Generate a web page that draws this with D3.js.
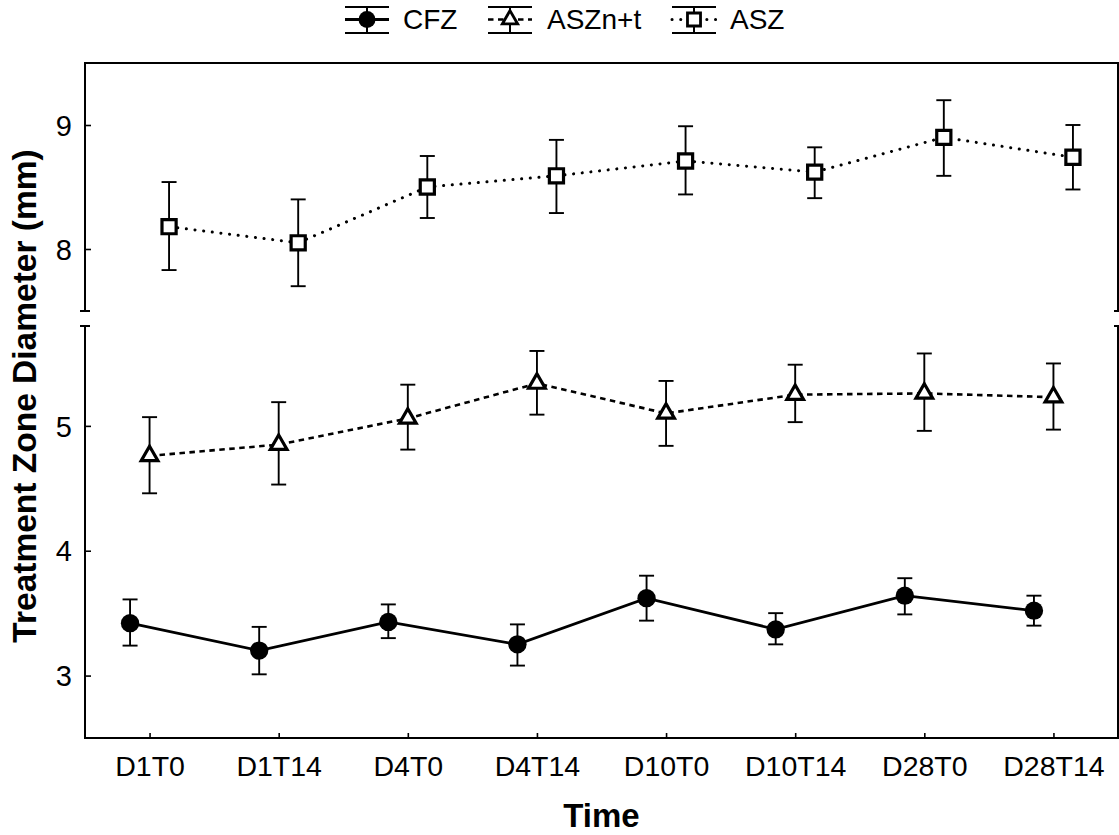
<!DOCTYPE html>
<html>
<head>
<meta charset="utf-8">
<script src="https://cdn.jsdelivr.net/npm/d3@7/dist/d3.min.js"></script>
<style>
  html, body { margin: 0; padding: 0; background: #fff; }
  svg { display: block; font-family: "Liberation Sans", Arial, Helvetica, sans-serif; }
</style>
</head>
<body>
<svg id="chart" width="1119" height="835"></svg>
<script>
// ---- data ----
const categories = ["D1T0","D1T14","D4T0","D4T14","D10T0","D10T14","D28T0","D28T14"];
const seriesNames = ["CFZ","ASZn+t","ASZ"];

const cfzMean  = [3.42,3.20,3.43,3.25,3.62,3.37,3.64,3.52];
const cfzUpper = [3.61,3.39,3.57,3.41,3.80,3.50,3.78,3.64];
const cfzLower = [3.24,3.01,3.30,3.08,3.44,3.25,3.49,3.40];

const asznMean  = [4.76,4.85,5.06,5.34,5.10,5.25,5.26,5.23];
const asznUpper = [5.07,5.19,5.33,5.60,5.36,5.49,5.58,5.50];
const asznLower = [4.46,4.53,4.81,5.09,4.84,5.03,4.96,4.97];

const aszMean  = [8.18,8.05,8.50,8.59,8.71,8.62,8.90,8.74];
const aszUpper = [8.54,8.40,8.75,8.88,8.99,8.82,9.20,9.00];
const aszLower = [7.83,7.70,8.25,8.29,8.44,8.41,8.59,8.48];

const topTicks = [8, 9];
const bottomTicks = [3, 4, 5];
const topDomain = [7.5, 9.5];
const bottomDomain = [2.5, 5.8];

// ---- layout ----
const svg = d3.select("#chart");
const L = 85, R = 1118, T = 63, B = 738;
const breakTop = 311, breakBot = 326;

const x = d3.scalePoint().domain(categories).range([L, R]).padding(0.5);
const yTop = d3.scaleLinear().domain(topDomain).range([breakTop, T]);
const yBot = d3.scaleLinear().domain(bottomDomain).range([B, breakBot]);

const DOT = "0.1,8.6";
const series = [
  {name: "CFZ", mean: cfzMean, up: cfzUpper, lo: cfzLower, y: yBot, off: -19.5,
   dash: null, lw: 2.8, cap: "butt", symbol: d3.symbolCircle, size: 265, fill: "#000", sw: 0},
  {name: "ASZn+t", mean: asznMean, up: asznUpper, lo: asznLower, y: yBot, off: 0,
   dash: "5.5,4.5", lw: 2.6, cap: "butt", symbol: d3.symbolTriangle, size: 120, fill: "#fff", sw: 3.2},
  {name: "ASZ", mean: aszMean, up: aszUpper, lo: aszLower, y: yTop, off: 19.5,
   dash: DOT, lw: 3, cap: "round", symbol: d3.symbolSquare, size: 200, fill: "#fff", sw: 3.2}
];

// ---- frame ----
const frame = svg.append("g").attr("stroke", "#000").attr("stroke-width", 2).attr("fill", "none");
frame.append("line").attr("x1", L).attr("x2", R).attr("y1", T).attr("y2", T);
frame.append("line").attr("x1", L).attr("x2", R).attr("y1", B).attr("y2", B);
[L, R].forEach(xx => {
  frame.append("line").attr("x1", xx).attr("x2", xx).attr("y1", T - 1).attr("y2", breakTop);
  frame.append("line").attr("x1", xx).attr("x2", xx).attr("y1", breakBot).attr("y2", B + 1);
});
// break marks
[breakTop, breakBot].forEach(yy => {
  frame.append("line").attr("x1", L - 5).attr("x2", L + 5).attr("y1", yy).attr("y2", yy);
  frame.append("line").attr("x1", R - 4).attr("x2", R + 5).attr("y1", yy).attr("y2", yy);
});

// ---- y axes (ticks inside) ----
function yAxis(scale, ticks) {
  const g = svg.append("g").attr("transform", `translate(${L},0)`)
    .call(d3.axisRight(scale).tickValues(ticks).tickSize(6).tickFormat(d3.format("d")));
  g.select(".domain").remove();
  g.selectAll(".tick line").attr("stroke", "#000").attr("stroke-width", 1.6);
  g.selectAll(".tick text").attr("x", -13).attr("text-anchor", "end")
    .attr("font-size", 29).attr("fill", "#000").attr("dy", "0.35em");
}
yAxis(yTop, topTicks);
yAxis(yBot, bottomTicks);

// ---- x axis (ticks inside) ----
const gx = svg.append("g").attr("transform", `translate(0,${B})`)
  .call(d3.axisTop(x).tickSize(5));
gx.select(".domain").remove();
gx.selectAll(".tick line").attr("stroke", "#000").attr("stroke-width", 1.6);
gx.selectAll(".tick text").attr("y", 38).attr("dy", 0).attr("font-size", 28.5)
  .attr("fill", "#000").attr("text-anchor", "middle");

// ---- axis titles ----
svg.append("text").attr("x", (L + R) / 2).attr("y", 827).attr("text-anchor", "middle")
  .attr("font-size", 33).attr("font-weight", "bold").text("Time");
svg.append("text").attr("transform", `translate(36,396) rotate(-90)`).attr("text-anchor", "middle")
  .attr("font-size", 33.5).attr("font-weight", "bold").text("Treatment Zone Diameter (mm)");

// ---- series ----
series.forEach(s => {
  const pts = categories.map((c, i) => ({c, i, m: s.mean[i], u: s.up[i], l: s.lo[i]}));
  const px = d => x(d.c) + s.off;
  const line = d3.line().x(px).y(d => s.y(d.m));
  svg.append("path").datum(pts).attr("d", line).attr("fill", "none")
    .attr("stroke", "#000").attr("stroke-width", s.lw)
    .attr("stroke-dasharray", s.dash).attr("stroke-linecap", s.cap);
  const eb = svg.append("g").attr("stroke", "#000").attr("stroke-width", 1.9);
  pts.forEach(d => {
    eb.append("line").attr("x1", px(d)).attr("x2", px(d)).attr("y1", s.y(d.u)).attr("y2", s.y(d.l));
    eb.append("line").attr("x1", px(d) - 7.5).attr("x2", px(d) + 7.5).attr("y1", s.y(d.u)).attr("y2", s.y(d.u));
    eb.append("line").attr("x1", px(d) - 7.5).attr("x2", px(d) + 7.5).attr("y1", s.y(d.l)).attr("y2", s.y(d.l));
  });
  svg.append("g").selectAll("path").data(pts).join("path")
    .attr("d", d3.symbol().type(s.symbol).size(s.size))
    .attr("transform", d => `translate(${px(d)},${s.y(d.m)})`)
    .attr("fill", s.fill).attr("stroke", "#000").attr("stroke-width", s.sw);
});

// ---- legend ----
const legendX = [345, 488, 672];
const legendTextX = [403, 547, 730];
const ly = 19.5;
series.forEach((s, k) => {
  const g = svg.append("g");
  const x0 = legendX[k], x1 = legendX[k] + 44, xc = (x0 + x1) / 2;
  g.append("line").attr("x1", x0).attr("x2", x1).attr("y1", 7).attr("y2", 7).attr("stroke", "#000").attr("stroke-width", 2);
  g.append("line").attr("x1", x0).attr("x2", x1).attr("y1", 33).attr("y2", 33).attr("stroke", "#000").attr("stroke-width", 2);
  g.append("line").attr("x1", xc).attr("x2", xc).attr("y1", 7).attr("y2", 33).attr("stroke", "#000").attr("stroke-width", 2);
  g.append("line").attr("x1", x0).attr("x2", x1).attr("y1", ly).attr("y2", ly)
    .attr("stroke", "#000").attr("stroke-width", s.lw).attr("stroke-dasharray", s.dash)
    .attr("stroke-linecap", s.cap);
  g.append("path").attr("d", d3.symbol().type(s.symbol).size(s.size * 0.85))
    .attr("transform", `translate(${xc},${ly})`)
    .attr("fill", s.fill).attr("stroke", "#000").attr("stroke-width", s.sw ? 2.8 : 0);
  g.append("text").attr("x", legendTextX[k]).attr("y", 29).attr("font-size", 28).text(s.name);
});
</script>
</body>
</html>
